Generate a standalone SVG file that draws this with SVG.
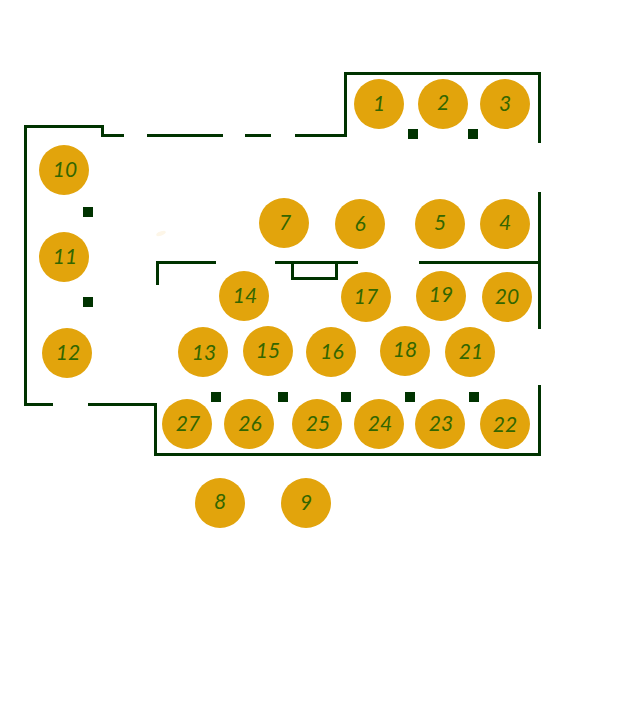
<svg xmlns="http://www.w3.org/2000/svg" width="640" height="726" viewBox="0 0 640 726">
<style>
.w{fill:none;stroke:#003300;stroke-width:3}
.p{fill:#003300}
.c{fill:#e2a40c}
.t{font:italic 21px "Lato",sans-serif;fill:#336600;text-anchor:middle}
</style>
<rect width="640" height="726" fill="#fff"/>
<g id="walls">
<path class="w" d="M345.500 137V73.500H539.500V143M539.500 192V329M539.500 385V454.500H155.500V404.500H88M53 404.500H25.500V126.500H102.500V135.500H124M147 135.500H223M245 135.500H271M295 135.500H345.500M157.500 285V262.500H216M275 262.500H358M419 262.500H539.500M292.500 262.500V278.500H336.500V262.500"/>
</g>
<g id="pillars">
<rect class="p" x="83" y="207" width="10" height="10"/><rect class="p" x="83" y="297" width="10" height="10"/>
<rect class="p" x="408" y="129" width="10" height="10"/><rect class="p" x="468" y="129" width="10" height="10"/>
<rect class="p" x="211" y="392" width="10" height="10"/><rect class="p" x="278" y="392" width="10" height="10"/><rect class="p" x="341" y="392" width="10" height="10"/><rect class="p" x="405" y="392" width="10" height="10"/><rect class="p" x="469" y="392" width="10" height="10"/>
</g>
<ellipse cx="161" cy="233.500" rx="5" ry="2" fill="#fdf6e8" transform="rotate(-20 161 233.500)"/>
<g id="n1"><circle class="c" cx="379" cy="104" r="25"/><text class="t" x="379" y="110.500">1</text></g>
<g id="n2"><circle class="c" cx="443" cy="104" r="25"/><text class="t" x="443" y="109.500">2</text></g>
<g id="n3"><circle class="c" cx="505" cy="104" r="25"/><text class="t" x="505" y="110.500">3</text></g>
<g id="n4"><circle class="c" cx="505" cy="224" r="25"/><text class="t" x="505" y="229.500">4</text></g>
<g id="n5"><circle class="c" cx="440" cy="224" r="25"/><text class="t" x="440" y="229.500">5</text></g>
<g id="n6"><circle class="c" cx="360" cy="224" r="25"/><text class="t" x="360" y="230.500">6</text></g>
<g id="n7"><circle class="c" cx="284" cy="223" r="25"/><text class="t" x="285" y="229.500">7</text></g>
<g id="n8"><circle class="c" cx="220" cy="503" r="25"/><text class="t" x="220" y="508.500">8</text></g>
<g id="n9"><circle class="c" cx="306" cy="503" r="25"/><text class="t" x="306" y="509.500">9</text></g>
<g id="n10"><circle class="c" cx="64" cy="170" r="25"/><text class="t" x="65" y="176.500">10</text></g>
<g id="n11"><circle class="c" cx="64" cy="257" r="25"/><text class="t" x="65" y="263.500">11</text></g>
<g id="n12"><circle class="c" cx="67" cy="353" r="25"/><text class="t" x="68" y="359.500">12</text></g>
<g id="n13"><circle class="c" cx="203" cy="352" r="25"/><text class="t" x="204" y="359.500">13</text></g>
<g id="n14"><circle class="c" cx="244" cy="296" r="25"/><text class="t" x="245" y="302.500">14</text></g>
<g id="n15"><circle class="c" cx="268" cy="351" r="25"/><text class="t" x="268" y="357.500">15</text></g>
<g id="n16"><circle class="c" cx="331" cy="352" r="25"/><text class="t" x="332" y="358.500">16</text></g>
<g id="n17"><circle class="c" cx="366" cy="297" r="25"/><text class="t" x="366" y="303.500">17</text></g>
<g id="n18"><circle class="c" cx="405" cy="351" r="25"/><text class="t" x="405" y="356.500">18</text></g>
<g id="n19"><circle class="c" cx="441" cy="296" r="25"/><text class="t" x="441" y="301.500">19</text></g>
<g id="n20"><circle class="c" cx="507" cy="297" r="25"/><text class="t" x="507" y="303.500">20</text></g>
<g id="n21"><circle class="c" cx="470" cy="352" r="25"/><text class="t" x="471" y="358.500">21</text></g>
<g id="n22"><circle class="c" cx="505" cy="424" r="25"/><text class="t" x="505" y="431.500">22</text></g>
<g id="n23"><circle class="c" cx="440" cy="424" r="25"/><text class="t" x="441" y="430.500">23</text></g>
<g id="n24"><circle class="c" cx="379" cy="424" r="25"/><text class="t" x="380" y="430.500">24</text></g>
<g id="n25"><circle class="c" cx="317" cy="424" r="25"/><text class="t" x="318" y="430.500">25</text></g>
<g id="n26"><circle class="c" cx="249" cy="424" r="25"/><text class="t" x="250" y="430.500">26</text></g>
<g id="n27"><circle class="c" cx="187" cy="424" r="25"/><text class="t" x="188" y="430.500">27</text></g>
</svg>
